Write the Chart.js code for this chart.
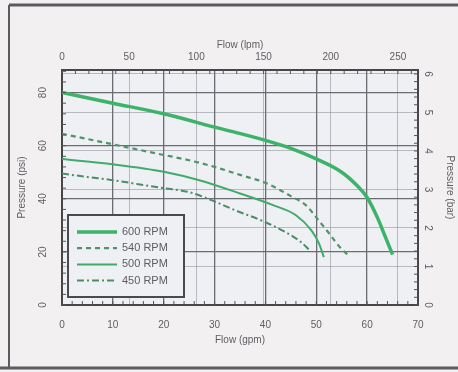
<!DOCTYPE html>
<html>
<head>
<meta charset="utf-8">
<script src="https://cdn.jsdelivr.net/npm/chart.js@4.4.1/dist/chart.umd.min.js"></script>
<style>
  html, body { margin: 0; padding: 0; background: #f3f0f2; }
  canvas { display: block; }
</style>
</head>
<body>
<canvas id="pumpChart" width="458" height="372"></canvas>
<script>
// series labels
const rpmLabels = ["600 RPM", "540 RPM", "500 RPM", "450 RPM"];

// flow (gpm) / pressure (psi)
const flow600 = [0, 10, 20, 30, 40, 45, 50, 55, 58, 60, 62, 63.5, 65];
const psi600 = [80, 76, 72, 67, 62, 59, 55, 50, 45, 40.5, 33, 26, 19];

const flow540 = [0, 5, 10, 15, 20, 25, 30, 35, 40, 45, 48, 50, 52.5, 55, 56.5];
const psi540 = [64.5, 62.5, 60.5, 58.5, 56.5, 54.5, 52, 49, 46, 41, 37.5, 33, 27, 21, 18.5];

const flow500 = [0, 10, 20, 27, 35, 41.5, 46, 49, 50.5, 51.5];
const psi500 = [55, 53, 50.2, 47, 42, 37.6, 33.8, 28.2, 23.3, 18];

const flow450 = [0, 5, 10, 15, 20, 25, 30, 34, 39, 44, 47, 48.5];
const psi450 = [49.5, 48.2, 47, 45.5, 44, 42.5, 39, 35.7, 32, 27.4, 23.7, 21];

// tick labels
const gpmTicks = [0, 10, 20, 30, 40, 50, 60, 70];
const lpmTicks = [0, 50, 100, 150, 200, 250];
const psiTicks = [0, 20, 40, 60, 80];
const barTicks = [0, 1, 2, 3, 4, 5, 6];

const gpmMax = 70;
const lpmMax = gpmMax * 3.785;
const psiMax = 88.5;
const barMax = psiMax / 14.504;

function pts(xs, ys) {
  return xs.map((x, i) => ({ x: x, y: ys[i] }));
}

function setTicks(list) {
  return (scale) => {
    scale.ticks = list.map((v) => ({ value: v }));
  };
}

const textColor = "#5d5d62";
const font = "10px 'Liberation Sans', Arial, sans-serif";

const decor = {
  id: "decor",
  beforeDraw(chart) {
    const c = chart.ctx;
    const a = chart.chartArea;
    c.save();
    c.fillStyle = "#f3f0f2";
    c.fillRect(0, 0, chart.width, chart.height);
    c.fillStyle = "#eef0f4";
    c.fillRect(a.left, a.top, a.right - a.left, a.bottom - a.top);
    c.restore();
  },
  afterDatasetsDraw(chart) {
    const c = chart.ctx;
    const s = chart.scales;
    const a = chart.chartArea;
    c.save();

    // minor ticks along the plot border
    c.strokeStyle = "#555";
    c.lineWidth = 1;
    c.beginPath();
    for (let v = 0; v <= gpmMax; v += 2) {
      const px = s.x.getPixelForValue(v);
      c.moveTo(px, a.bottom);
      c.lineTo(px, a.bottom - 4);
    }
    for (let v = 0; v <= lpmMax; v += 10) {
      const px = s.x2.getPixelForValue(v);
      c.moveTo(px, a.top);
      c.lineTo(px, a.top + 4);
    }
    for (let v = 0; v <= psiMax; v += 4) {
      const py = s.y.getPixelForValue(v);
      c.moveTo(a.left, py);
      c.lineTo(a.left + 4, py);
    }
    for (let v = 0; v <= barMax; v += 0.2) {
      const py = s.y2.getPixelForValue(v);
      c.moveTo(a.right, py);
      c.lineTo(a.right - 4, py);
    }
    c.stroke();

    // legend box
    const lx = 68, ly = 215, lw = 116, lh = 82;
    c.fillStyle = "#eff0f3";
    c.fillRect(lx, ly, lw, lh);
    c.strokeStyle = "#4a4a4e";
    c.lineWidth = 2;
    c.strokeRect(lx, ly, lw, lh);
    c.font = "11px 'Liberation Sans', Arial, sans-serif";
    c.textBaseline = "middle";
    c.textAlign = "left";
    chart.data.datasets.forEach((ds, i) => {
      const yy = ly + 17 + i * 16.2;
      c.strokeStyle = ds.borderColor;
      c.lineWidth = ds.borderWidth;
      c.setLineDash(ds.borderDash || []);
      c.beginPath();
      c.moveTo(lx + 9, yy);
      c.lineTo(lx + 49, yy);
      c.stroke();
      c.setLineDash([]);
      c.fillStyle = textColor;
      c.fillText(ds.label, lx + 54, yy);
    });
    c.restore();
  },
  afterDraw(chart) {
    const c = chart.ctx;
    const s = chart.scales;
    const a = chart.chartArea;
    c.save();
    c.fillStyle = textColor;
    c.font = font;
    c.textAlign = "center";
    c.textBaseline = "middle";

    gpmTicks.forEach((v) => c.fillText(String(v), s.x.getPixelForValue(v), a.bottom + 20));
    lpmTicks.forEach((v) => c.fillText(String(v), s.x2.getPixelForValue(v), a.top - 13));
    c.fillText("Flow (gpm)", (a.left + a.right) / 2, a.bottom + 35);
    c.fillText("Flow (lpm)", (a.left + a.right) / 2, a.top - 25);

    psiTicks.forEach((v) => {
      c.save();
      c.translate(a.left - 19, s.y.getPixelForValue(v));
      c.rotate(-Math.PI / 2);
      c.fillText(String(v), 0, 0);
      c.restore();
    });
    barTicks.forEach((v) => {
      c.save();
      c.translate(a.right + 10, s.y2.getPixelForValue(v));
      c.rotate(Math.PI / 2);
      c.fillText(String(v), 0, 0);
      c.restore();
    });

    const midY = (a.top + a.bottom) / 2;
    c.save();
    c.translate(22, midY);
    c.rotate(-Math.PI / 2);
    c.fillText("Pressure (psi)", 0, 0);
    c.restore();
    c.save();
    c.translate(a.right + 32, midY);
    c.rotate(Math.PI / 2);
    c.fillText("Pressure (bar)", 0, 0);
    c.restore();

    // outer frame of the scanned sheet
    c.strokeStyle = "#5a5a60";
    c.lineWidth = 3;
    c.beginPath();
    c.moveTo(9, 5);
    c.lineTo(chart.width, 5);
    c.moveTo(0, 368);
    c.lineTo(chart.width, 368);
    c.stroke();
    c.lineWidth = 2;
    c.beginPath();
    c.moveTo(9, 5);
    c.lineTo(9, 368);
    c.stroke();
    c.restore();
  },
};

const darkGrid = { color: "#6b6b72", lineWidth: 1.3, drawTicks: false };
const lightGrid = { color: "rgba(120,120,130,0.45)", lineWidth: 1, drawTicks: false };
const frameBorder = { display: true, color: "#45454a", width: 2 };

new Chart(document.getElementById("pumpChart"), {
  type: "line",
  data: {
    datasets: [
      {
        label: rpmLabels[0],
        data: pts(flow600, psi600),
        borderColor: "#3db36a",
        borderWidth: 3.5,
      },
      {
        label: rpmLabels[1],
        data: pts(flow540, psi540),
        borderColor: "#4f9468",
        borderWidth: 2.2,
        borderDash: [5, 4],
      },
      {
        label: rpmLabels[2],
        data: pts(flow500, psi500),
        borderColor: "#42ab6c",
        borderWidth: 2,
      },
      {
        label: rpmLabels[3],
        data: pts(flow450, psi450),
        borderColor: "#4c8d66",
        borderWidth: 2,
        borderDash: [7, 3, 2, 3],
      },
    ],
  },
  options: {
    responsive: false,
    animation: false,
    layout: { padding: 0 },
    elements: {
      point: { radius: 0 },
      line: { cubicInterpolationMode: "monotone", fill: false },
    },
    plugins: {
      legend: { display: false },
      tooltip: { enabled: false },
    },
    scales: {
      x: {
        type: "linear",
        position: "bottom",
        min: 0,
        max: gpmMax,
        afterBuildTicks: setTicks(gpmTicks),
        afterFit: (sc) => { sc.height = 67; },
        ticks: { display: false },
        grid: darkGrid,
        border: frameBorder,
      },
      x2: {
        type: "linear",
        position: "top",
        min: 0,
        max: lpmMax,
        afterBuildTicks: setTicks(lpmTicks),
        afterFit: (sc) => { sc.height = 70; },
        ticks: { display: false },
        grid: lightGrid,
        border: frameBorder,
      },
      y: {
        type: "linear",
        position: "left",
        min: 0,
        max: psiMax,
        afterBuildTicks: setTicks(psiTicks),
        afterFit: (sc) => { sc.width = 62; },
        ticks: { display: false },
        grid: darkGrid,
        border: frameBorder,
      },
      y2: {
        type: "linear",
        position: "right",
        min: 0,
        max: barMax,
        afterBuildTicks: setTicks(barTicks),
        afterFit: (sc) => { sc.width = 40; },
        ticks: { display: false },
        grid: lightGrid,
        border: frameBorder,
      },
    },
  },
  plugins: [decor],
});
</script>
</body>
</html>
